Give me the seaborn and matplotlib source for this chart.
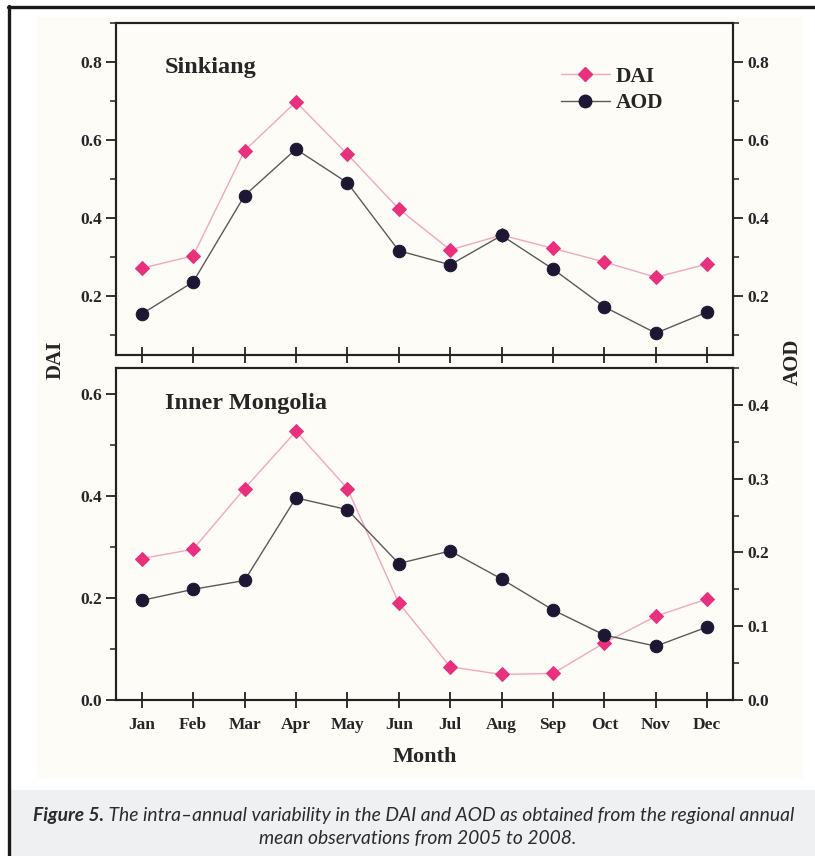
import numpy as np
import pandas as pd
import matplotlib
matplotlib.use("Agg")
import matplotlib.pyplot as plt
from matplotlib.ticker import MultipleLocator
from matplotlib.patches import Rectangle
from matplotlib.lines import Line2D
import seaborn as sns

# ---------------- data ----------------
months = ["Jan", "Feb", "Mar", "Apr", "May", "Jun", "Jul", "Aug", "Sep", "Oct", "Nov", "Dec"]
sinkiang_dai = [0.272, 0.304, 0.573, 0.698, 0.564, 0.424, 0.319, 0.357, 0.323, 0.288, 0.249, 0.283]
sinkiang_aod = [0.155, 0.237, 0.458, 0.577, 0.491, 0.317, 0.281, 0.356, 0.270, 0.173, 0.106, 0.160]
mongolia_dai = [0.277, 0.295, 0.414, 0.526, 0.414, 0.190, 0.065, 0.050, 0.052, 0.112, 0.164, 0.198]
mongolia_aod = [0.135, 0.150, 0.162, 0.274, 0.258, 0.185, 0.202, 0.164, 0.122, 0.088, 0.073, 0.099]
panel_titles = ["Sinkiang", "Inner Mongolia"]
series_names = ["DAI", "AOD"]
caption_bold = "Figure 5."
caption_rest = " The intra\u2013annual variability in the DAI and AOD as obtained from the regional annual"
caption_line2 = "mean observations from 2005 to 2008."

df_top = pd.DataFrame({"Month": months, "DAI": sinkiang_dai, "AOD": sinkiang_aod})
df_bot = pd.DataFrame({"Month": months, "DAI": mongolia_dai, "AOD": mongolia_aod})

# ---------------- style ----------------
sns.set_style("ticks")
plt.rcParams["font.family"] = ["Liberation Serif", "DejaVu Serif"]
plt.rcParams["font.weight"] = "bold"
plt.rcParams["axes.labelweight"] = "bold"

W, H = 815, 856
fig = plt.figure(figsize=(W / 100, H / 100), dpi=100, facecolor="white")

CREAM = "#FDFCF7"
GRAY_BG = "#EFF0F2"
DAI_LINE = "#F2A6BE"
DAI_MARK = "#E8307C"
AOD_LINE = "#5A5A5A"
AOD_MARK = "#1E1733"

def fx(px):
    return px / W

def fy(py):
    return 1 - py / H

# background panels
fig.patches.append(Rectangle((fx(37), fy(779)), fx(803) - fx(37), fy(17) - fy(779),
                             transform=fig.transFigure, facecolor=CREAM, edgecolor="none", zorder=-10))
fig.patches.append(Rectangle((fx(10), 0), 1 - fx(10), fy(790),
                             transform=fig.transFigure, facecolor=GRAY_BG, edgecolor="none", zorder=-10))
fig.lines.append(Line2D([fx(9), fx(9)], [0, fy(6)], transform=fig.transFigure, color="#1a1a1a",
                        lw=2.4, zorder=-9))
fig.lines.append(Line2D([fx(8), 1], [fy(7), fy(7)], transform=fig.transFigure, color="#1a1a1a",
                        lw=2.4, zorder=-9))

left, right = 116, 733
ax_top = fig.add_axes([fx(left), fy(355), fx(right) - fx(left), fy(23) - fy(355)])
ax_bot = fig.add_axes([fx(left), fy(700), fx(right) - fx(left), fy(368) - fy(700)])

tick_fs = 12.5

def draw_panel(ax, df, title, ylim_l, ylim_r, major_l, minor_l, major_r, minor_r, show_xlabels,
               top_px, bot_px, title_y_px):
    ax.set_facecolor(CREAM)
    ax2 = ax.twinx()
    sns.lineplot(data=df, x="Month", y="DAI", ax=ax, color=DAI_LINE, lw=1.0, marker="D",
                 markersize=7.5, markerfacecolor=DAI_MARK, markeredgecolor=DAI_MARK, sort=False,
                 zorder=3)
    sns.lineplot(data=df, x="Month", y="AOD", ax=ax2, color=AOD_LINE, lw=1.0, marker="o",
                 markersize=9, markerfacecolor=AOD_MARK, markeredgecolor=AOD_MARK, sort=False,
                 zorder=3)
    ax.set_xlim(-0.5, 11.5)
    ax.set_ylim(*ylim_l)
    ax2.set_ylim(*ylim_r)
    ax.set_xlabel("")
    ax.set_ylabel("")
    ax2.set_ylabel("")
    ax.yaxis.set_major_locator(MultipleLocator(major_l))
    ax.yaxis.set_minor_locator(MultipleLocator(minor_l))
    ax2.yaxis.set_major_locator(MultipleLocator(major_r))
    ax2.yaxis.set_minor_locator(MultipleLocator(minor_r))
    for a in (ax, ax2):
        for s in a.spines.values():
            s.set_linewidth(1.5)
            s.set_color("#222222")
            s.set_visible(True)
    ax.tick_params(axis="x", direction="inout", length=12, width=1.3, color="#222222",
                   labelsize=tick_fs, pad=6, labelbottom=show_xlabels, top=False)
    ax.tick_params(axis="y", which="major", direction="out", length=7, width=1.3,
                   color="#222222", labelsize=tick_fs, pad=3, right=False)
    ax.tick_params(axis="y", which="minor", direction="out", length=4, width=1.1, color="#222222")
    ax2.tick_params(axis="y", which="major", direction="out", length=7, width=1.3,
                    color="#222222", labelsize=tick_fs, pad=3)
    ax2.tick_params(axis="y", which="minor", direction="out", length=4, width=1.1, color="#222222")
    for lab in ax.get_xticklabels() + ax.get_yticklabels() + ax2.get_yticklabels():
        lab.set_fontweight("bold")
    ax.text((165 - left) / (right - left), (bot_px - title_y_px) / (bot_px - top_px), title,
            transform=ax.transAxes, fontsize=17.5, fontweight="bold", va="center", ha="left")
    return ax2

ax_top2 = draw_panel(ax_top, df_top, panel_titles[0], (0.05, 0.9), (0.05, 0.9),
                     0.2, 0.1, 0.2, 0.1, False, 23, 355, 68)
ax_bot2 = draw_panel(ax_bot, df_bot, panel_titles[1], (0.0, 0.65), (0.0, 0.45),
                     0.2, 0.1, 0.1, 0.05, True, 368, 700, 403)

# legend
handles = [
    Line2D([], [], color=DAI_LINE, lw=1.0, marker="D", markersize=7.5,
           markerfacecolor=DAI_MARK, markeredgecolor=DAI_MARK),
    Line2D([], [], color=AOD_LINE, lw=1.0, marker="o", markersize=9,
           markerfacecolor=AOD_MARK, markeredgecolor=AOD_MARK),
]
ax_top2.legend(handles, series_names, loc="upper left",
               bbox_to_anchor=((552 - left) / (right - left), (355 - 58) / (355 - 23)),
               frameon=False, prop={"family": "Liberation Serif", "weight": "bold", "size": 15.5},
               handlelength=2.3, handletextpad=0.25, labelspacing=0.3, borderaxespad=0)

# axis labels
fig.text(fx(56), fy(360), "DAI", rotation=90, ha="center", va="center", fontsize=15, fontweight="bold")
fig.text(fx(793), fy(362), "AOD", rotation=90, ha="center", va="center", fontsize=15, fontweight="bold")
fig.text((fx(left) + fx(right)) / 2, fy(757), "Month", ha="center", va="center", fontsize=16,
         fontweight="bold")

# caption
cap_fs = 13.9
cap_color = "#2b2b2b"
t1 = fig.text(fx(33), fy(815), caption_bold, ha="left", va="center", fontsize=cap_fs,
              family=["Lato", "DejaVu Sans"], style="italic", weight="bold", color=cap_color)
fig.canvas.draw()
bb = t1.get_window_extent()
fig.text(bb.x1 / fig.dpi / fig.get_figwidth(), fy(815), caption_rest, ha="left", va="center",
         fontsize=cap_fs, family=["Lato", "DejaVu Sans"], style="italic", weight="normal",
         color=cap_color)
fig.text(fx(418), fy(838), caption_line2, ha="center", va="center", fontsize=cap_fs,
         family=["Lato", "DejaVu Sans"], style="italic", weight="normal", color=cap_color)

fig.savefig("out.png", dpi=100, facecolor="white")
